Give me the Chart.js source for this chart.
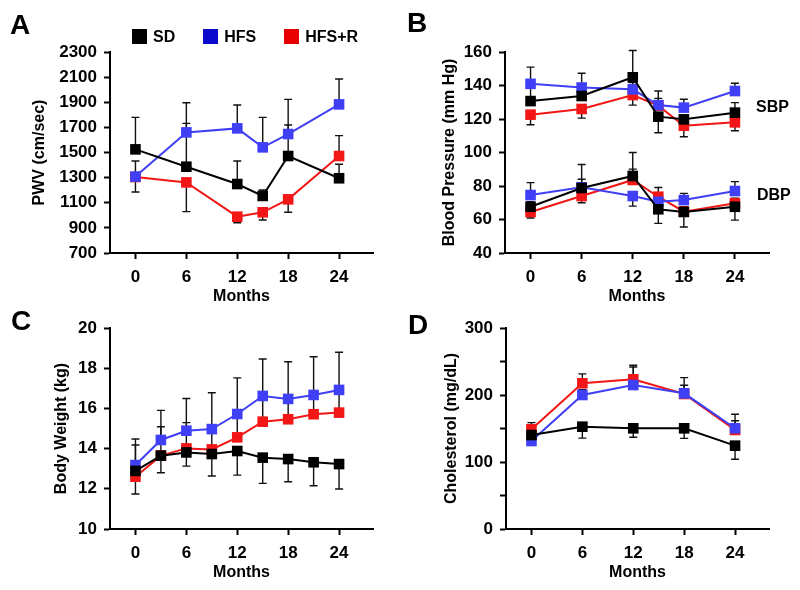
<!DOCTYPE html>
<html>
<head>
<meta charset="utf-8">
<script src="https://cdn.jsdelivr.net/npm/chart.js@4.4.0/dist/chart.umd.min.js"></script>
<style>
  body { margin: 0; background: #fff; font-family: "Liberation Sans", Arial, sans-serif; }
  #fig { position: relative; width: 800px; height: 590px; overflow: hidden; }
  #fig canvas { position: absolute; }
  .letter { position: absolute; font-weight: bold; font-size: 28px; line-height: 1; }
  .tag { position: absolute; font-weight: bold; font-size: 16px; line-height: 16px; }
  #legend { position: absolute; left: 132px; top: 29px; display: flex; gap: 28px; }
  #legend .item { display: flex; align-items: center; gap: 6px; font-weight: bold; font-size: 16px; height: 15px; }
  #legend .box { width: 15px; height: 15px; }
</style>
</head>
<body>
<div id="fig">
  <canvas id="chartA" width="400" height="314" style="left:0;top:0"></canvas>
  <canvas id="chartB" width="400" height="314" style="left:400px;top:0"></canvas>
  <canvas id="chartC" width="400" height="314" style="left:0;top:276px"></canvas>
  <canvas id="chartD" width="400" height="314" style="left:400px;top:276px"></canvas>
  <div class="letter" style="left:10px;top:11px">A</div>
  <div class="letter" style="left:407px;top:9px">B</div>
  <div class="letter" style="left:11px;top:307px">C</div>
  <div class="letter" style="left:408px;top:311px">D</div>
  <div class="tag" style="left:756px;top:99px">SBP</div>
  <div class="tag" style="left:757px;top:187px">DBP</div>
  <div id="legend"></div>
</div>
<script>
var groups = ["SD", "HFS", "HFS+R"];
var lineColors = ["#000000", "#3f3ff5", "#f21616"];
var legendColors = ["#000000", "#0a0acc", "#e60000"];
var monthTicks = [0, 6, 12, 18, 24];

// error values are signed: + bar drawn above the point, - below
// A: pulse wave velocity
var monthsA = [0, 6, 12, 15, 18, 24];
var pwvSD = [1525, 1387, 1249, 1154, 1472, 1295];
var pwvHFS = [1308, 1660, 1692, 1541, 1647, 1883];
var pwvHFSR = [1305, 1262, 989, 1024, 1127, 1472];
var pwvErrSD = [255, 345, 183, 48, 247, 111];
var pwvErrHFS = [124, 236, 186, 239, 276, 202];
var pwvErrHFSR = [-120, -233, -48, -61, -103, 162];

// B: blood pressure
var monthsB = [0, 6, 12, 15, 18, 24];
var sbpSD = [130.7, 133.7, 144.9, 121.4, 119.8, 123.8];
var sbpHFS = [141.0, 138.8, 137.7, 128.3, 126.8, 136.7];
var sbpHFSR = [122.6, 126.0, 134.3, 128.0, 116.0, 118.0];
var sbpErrSD = [8, 6, 16, -9.6, -5, 6];
var sbpErrHFS = [10, 8.5, 4, 4, 5, 4.6];
var sbpErrHFSR = [-6, -5.5, -6, 8.7, -6.6, -5];
var dbpSD = [67.6, 78.8, 86.0, 66.1, 64.5, 67.6];
var dbpHFS = [74.6, 79.2, 74.0, 70.6, 71.6, 77.0];
var dbpHFSR = [64.5, 74.0, 83.6, 73.6, 64.7, 69.7];
var dbpErrSD = [3, 14, 14, -8.4, -9, -8];
var dbpErrHFS = [7.4, 4.8, -6, 3, 4, 5.6];
var dbpErrHFSR = [-3.6, -4, 6.5, 5.5, 3, 3];

// C: body weight
var monthsC = [0, 3, 6, 9, 12, 15, 18, 21, 24];
var bwSD = [12.89, 13.65, 13.81, 13.73, 13.88, 13.55, 13.48, 13.32, 13.23];
var bwHFS = [13.18, 14.43, 14.89, 14.97, 15.72, 16.62, 16.47, 16.67, 16.92];
var bwHFSR = [12.6, 13.65, 14.01, 13.96, 14.56, 15.34, 15.46, 15.71, 15.79];
var bwErrSD = [-1.15, -0.85, -0.68, -1.09, -1.2, -1.28, -1.13, -1.17, -1.24];
var bwErrHFS = [1.3, 1.47, 1.6, 1.81, 1.8, 1.84, 1.85, 1.9, 1.87];
var bwErrHFSR = [1.58, 1.44, 1.28, 1.0, 1.2, 1.28, 1.0, 0.95, 1.05];

// D: cholesterol
var monthsD = [0, 6, 12, 18, 24];
var cholSD = [140.3, 152.7, 150.3, 150.3, 124.4];
var cholHFS = [131.3, 200, 214.9, 202.5, 150.3];
var cholHFSR = [148.8, 217.5, 223.4, 201.5, 147.8];
var cholErrSD = [-5, -17, -13.4, -15, -20.4];
var cholErrHFS = [5, 8, 27, 23.4, 21];
var cholErrHFSR = [10, 14, 21, 13, 13.8];

// legend
var legendEl = document.getElementById("legend");
groups.forEach(function (g, i) {
    var item = document.createElement("div");
    item.className = "item";
    item.innerHTML = '<span class="box" style="background:' + legendColors[i] + '"></span><span>' + g + '</span>';
    legendEl.appendChild(item);
});

var errorBarPlugin = {
    id: "errorBars",
    beforeDatasetsDraw: function (chart) {
        var ctx = chart.ctx, yScale = chart.scales.y;
        ctx.save();
        ctx.strokeStyle = "#111";
        ctx.lineWidth = 1.4;
        chart.data.datasets.forEach(function (ds, i) {
            var meta = chart.getDatasetMeta(i);
            meta.data.forEach(function (pt, j) {
                var yEnd = yScale.getPixelForValue(ds.data[j].y + ds.errors[j]);
                ctx.beginPath();
                ctx.moveTo(pt.x, pt.y);
                ctx.lineTo(pt.x, yEnd);
                ctx.moveTo(pt.x - 4, yEnd);
                ctx.lineTo(pt.x + 4, yEnd);
                ctx.stroke();
            });
        });
        ctx.restore();
    }
};

function series(months, values, errors, colorIdx) {
    return {
        data: months.map(function (m, i) { return {x: m, y: values[i]}; }),
        errors: errors,
        borderColor: lineColors[colorIdx],
        backgroundColor: lineColors[colorIdx],
        borderWidth: 2,
        pointStyle: "rect",
        pointRadius: 7.5,
        pointBorderWidth: 0,
        tension: 0,
        clip: false
    };
}

var tickFont = {family: "'Liberation Sans', Arial, sans-serif", size: 17, weight: "bold"};
var titleFont = {family: "'Liberation Sans', Arial, sans-serif", size: 16, weight: "bold"};

function makeOptions(p) {
    return {
        responsive: false,
        animation: false,
        devicePixelRatio: 1,
        layout: {padding: {top: 52, right: p.right, left: 0, bottom: 0}},
        plugins: {legend: {display: false}, tooltip: {enabled: false}},
        scales: {
            x: {
                type: "linear", min: -3, max: 28,
                afterBuildTicks: function (s) { s.ticks = monthTicks.map(function (v) { return {value: v}; }); },
                afterFit: function (s) { s.height = 61; },
                grid: {drawOnChartArea: false, tickLength: 6, tickWidth: 2, tickColor: "#000"},
                border: {color: "#000", width: 2},
                ticks: {color: "#000", font: tickFont, padding: 8, maxRotation: 0},
                title: {display: true, text: "Months", color: "#000", font: titleFont, padding: {top: 0, bottom: 8}}
            },
            y: {
                min: p.min, max: p.max,
                afterBuildTicks: function (s) {
                    var t = [];
                    for (var v = p.min; v <= p.max; v += p.step) t.push({value: v});
                    s.ticks = t;
                },
                afterFit: function (s) { s.width = p.axisX; },
                grid: {drawOnChartArea: false, tickLength: 6, tickWidth: 2, tickColor: "#000"},
                border: {color: "#000", width: 2},
                ticks: {
                    color: "#000", font: tickFont, padding: 7,
                    callback: function (v) { return (p.labelEvery && v % p.labelEvery !== 0) ? "" : v; }
                },
                title: {display: true, text: p.title, color: "#000", font: titleFont, padding: {top: p.titleX - 9.6, bottom: 0}}
            }
        }
    };
}

new Chart(document.getElementById("chartA"), {
    type: "line",
    data: {datasets: [
        series(monthsA, pwvSD, pwvErrSD, 0),
        series(monthsA, pwvHFS, pwvErrHFS, 1),
        series(monthsA, pwvHFSR, pwvErrHFSR, 2)
    ]},
    options: makeOptions({min: 700, max: 2300, step: 200, axisX: 110, right: 27, title: "PWV (cm/sec)", titleX: 40}),
    plugins: [errorBarPlugin]
});

new Chart(document.getElementById("chartB"), {
    type: "line",
    data: {datasets: [
        series(monthsB, sbpSD, sbpErrSD, 0),
        series(monthsB, sbpHFS, sbpErrHFS, 1),
        series(monthsB, sbpHFSR, sbpErrHFSR, 2),
        series(monthsB, dbpSD, dbpErrSD, 0),
        series(monthsB, dbpHFS, dbpErrHFS, 1),
        series(monthsB, dbpHFSR, dbpErrHFSR, 2)
    ]},
    options: makeOptions({min: 40, max: 160, step: 20, axisX: 105, right: 31, title: "Blood Pressure (mm Hg)", titleX: 50}),
    plugins: [errorBarPlugin]
});

new Chart(document.getElementById("chartC"), {
    type: "line",
    data: {datasets: [
        series(monthsC, bwSD, bwErrSD, 0),
        series(monthsC, bwHFS, bwErrHFS, 1),
        series(monthsC, bwHFSR, bwErrHFSR, 2)
    ]},
    options: makeOptions({min: 10, max: 20, step: 2, axisX: 110, right: 27, title: "Body Weight (kg)", titleX: 62}),
    plugins: [errorBarPlugin]
});

new Chart(document.getElementById("chartD"), {
    type: "line",
    data: {datasets: [
        series(monthsD, cholSD, cholErrSD, 0),
        series(monthsD, cholHFS, cholErrHFS, 1),
        series(monthsD, cholHFSR, cholErrHFSR, 2)
    ]},
    options: makeOptions({min: 0, max: 300, step: 50, labelEvery: 100, axisX: 106, right: 31, title: "Cholesterol (mg/dL)", titleX: 52}),
    plugins: [errorBarPlugin]
});
</script>
</body>
</html>
